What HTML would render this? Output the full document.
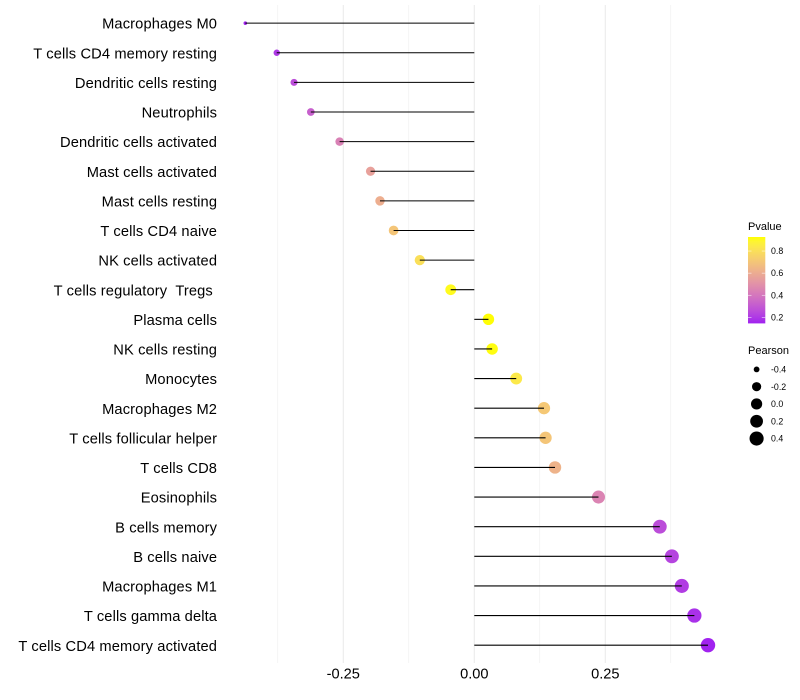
<!DOCTYPE html>
<html>
<head>
<meta charset="utf-8">
<style>
html,body{margin:0;padding:0;background:#fff;}
svg{display:block;font-family:"Liberation Sans",sans-serif;}
.ylab{white-space:pre;letter-spacing:0.125px;}
</style>
</head>
<body>
<svg id="chart" width="800" height="700" viewBox="0 0 800 700" xmlns="http://www.w3.org/2000/svg">
<defs><linearGradient id="pgrad" x1="0" y1="1" x2="0" y2="0"></linearGradient></defs>
</svg>
<script>
const categories = ["Macrophages M0","T cells CD4 memory resting","Dendritic cells resting","Neutrophils","Dendritic cells activated","Mast cells activated","Mast cells resting","T cells CD4 naive","NK cells activated","T cells regulatory  Tregs ","Plasma cells","NK cells resting","Monocytes","Macrophages M2","T cells follicular helper","T cells CD8","Eosinophils","B cells memory","B cells naive","Macrophages M1","T cells gamma delta","T cells CD4 memory activated"];
const pearson = [-0.437,-0.377,-0.344,-0.312,-0.257,-0.198,-0.180,-0.154,-0.104,-0.045,0.027,0.034,0.080,0.133,0.136,0.154,0.237,0.354,0.377,0.396,0.420,0.446];
const pvalues = [0.15,0.20,0.26,0.32,0.44,0.56,0.61,0.70,0.80,0.91,0.925,0.92,0.84,0.71,0.70,0.63,0.45,0.26,0.23,0.21,0.18,0.15];
const xTicks = [-0.25,0,0.25];
const xTickLabels = ["-0.25","0.00","0.25"];
const xMinorTicks = [-0.375,-0.125,0.125,0.375];
const pTicks = [0.2,0.4,0.6,0.8];
const pTickLabels = ["0.2","0.4","0.6","0.8"];
const sizeTicks = [-0.4,-0.2,0,0.2,0.4];
const sizeTickLabels = ["-0.4","-0.2","0.0","0.2","0.4"];

const svg = document.getElementById('chart');
const NS = 'http://www.w3.org/2000/svg';
function make(tag, attrs, parent){
  const el = document.createElementNS(NS, tag);
  for (const k in attrs) el.setAttribute(k, attrs[k]);
  (parent || svg).appendChild(el);
  return el;
}
const xScale = v => 474.3 + v * 524;
const yScale = i => 23.14 + i * 29.62;
const panelTop = 5, panelBottom = 663;

const pMin = 0.145, pMax = 0.927;
const pBarTop = 237, pBarBottom = 323.4;
const pY = p => pBarBottom - (p - pMin) / (pMax - pMin) * (pBarBottom - pBarTop);

const sizeMin = -0.437, sizeMax = 0.446;
const radius = v => 1.8 + 5.4 * Math.sqrt(Math.max(0, (v - sizeMin) / (sizeMax - sizeMin)));

function rgb2lab(c){
  const f = u => { u/=255; return u>0.04045 ? Math.pow((u+0.055)/1.055,2.4) : u/12.92; };
  const r=f(c[0]), g=f(c[1]), b=f(c[2]);
  const X=(0.4124*r+0.3576*g+0.1805*b)/0.95047, Y=0.2126*r+0.7152*g+0.0722*b, Z=(0.0193*r+0.1192*g+0.9505*b)/1.08883;
  const h = t => t>0.008856 ? Math.cbrt(t) : 7.787*t+16/116;
  return [116*h(Y)-16, 500*(h(X)-h(Y)), 200*(h(Y)-h(Z))];
}
function lab2rgb(l){
  const y=(l[0]+16)/116, x=l[1]/500+y, z=y-l[2]/200;
  const h = t => t*t*t>0.008856 ? t*t*t : (t-16/116)/7.787;
  const X=h(x)*0.95047, Y=h(y), Z=h(z)*1.08883;
  const g = u => { u = u>0.0031308 ? 1.055*Math.pow(u,1/2.4)-0.055 : 12.92*u; return Math.round(Math.min(1,Math.max(0,u))*255); };
  return 'rgb('+g(3.2406*X-1.5372*Y-0.4986*Z)+','+g(-0.9689*X+1.8758*Y+0.0415*Z)+','+g(0.0557*X-0.2040*Y+1.0570*Z)+')';
}
const labLow = rgb2lab([160,32,240]), labHigh = rgb2lab([255,255,0]);
function colorAt(t){
  t = Math.min(1, Math.max(0, t));
  return lab2rgb(labLow.map((v,i) => v + (labHigh[i]-v)*t));
}
const pColor = p => colorAt((p - pMin) / (pMax - pMin));

/* grid */
xMinorTicks.forEach(v => {
  const l = make('line', {x1:xScale(v), x2:xScale(v), y1:panelTop, y2:panelBottom, stroke:'#ebebeb', 'stroke-width':0.53});
  
  
});
xTicks.forEach((v, i) => {
  const l = make('line', {x1:xScale(v), x2:xScale(v), y1:panelTop, y2:panelBottom, stroke:'#ebebeb', 'stroke-width':1.07});
  
  
  const t = make('text', {x:xScale(v), y:678.5, 'text-anchor':'middle', 'font-size':14.6, fill:'#000'});
  t.textContent = xTickLabels[i];
  
  
});

/* marks */
categories.forEach((name, i) => {
  const y = yScale(i);
  const t = make('text', {x:217.1, y:y+5.6, 'text-anchor':'end', 'font-size':14.67, fill:'#000', 'class':'ylab'});
  t.textContent = name;
  
  
  const c = make('circle', {cx:xScale(pearson[i]), cy:y, r:radius(pearson[i]), fill:pColor(pvalues[i])});
  
  
  const l = make('line', {x1:xScale(0), x2:xScale(pearson[i]), y1:y, y2:y, stroke:'#000', 'stroke-width':1.07});
  
  
});

/* colour legend */
const grad = document.getElementById('pgrad');
for (let k = 0; k <= 20; k++) {
  make('stop', {offset:(k*5)+'%', 'stop-color':colorAt(k/20)}, grad);
}
const pTitle = make('text', {x:748, y:230, 'font-size':11, fill:'#000'});
pTitle.textContent = 'Pvalue';


const bar = make('rect', {x:748, y:pBarTop, width:17.3, height:pBarBottom-pBarTop, fill:'url(#pgrad)'});


pTicks.forEach((p, i) => {
  const y = pY(p);
  const a = make('line', {x1:748, x2:751.5, y1:y, y2:y, stroke:'#fff', 'stroke-width':0.5});
  
  
  const b = make('line', {x1:761.8, x2:765.3, y1:y, y2:y, stroke:'#fff', 'stroke-width':0.5});
  
  
  const t = make('text', {x:771, y:y+3.1, 'font-size':8.8, fill:'#000'});
  t.textContent = pTickLabels[i];
  
  
});

/* size legend */
const sTitle = make('text', {x:748, y:354, 'font-size':11, fill:'#000'});
sTitle.textContent = 'Pearson';


sizeTicks.forEach((v, i) => {
  const y = 369.4 + i * 17.28;
  const c = make('circle', {cx:756.6, cy:y, r:radius(v), fill:'#000'});
  
  
  const t = make('text', {x:771, y:y+3.1, 'font-size':8.8, fill:'#000'});
  t.textContent = sizeTickLabels[i];
  
  
});
</script>
</body>
</html>
